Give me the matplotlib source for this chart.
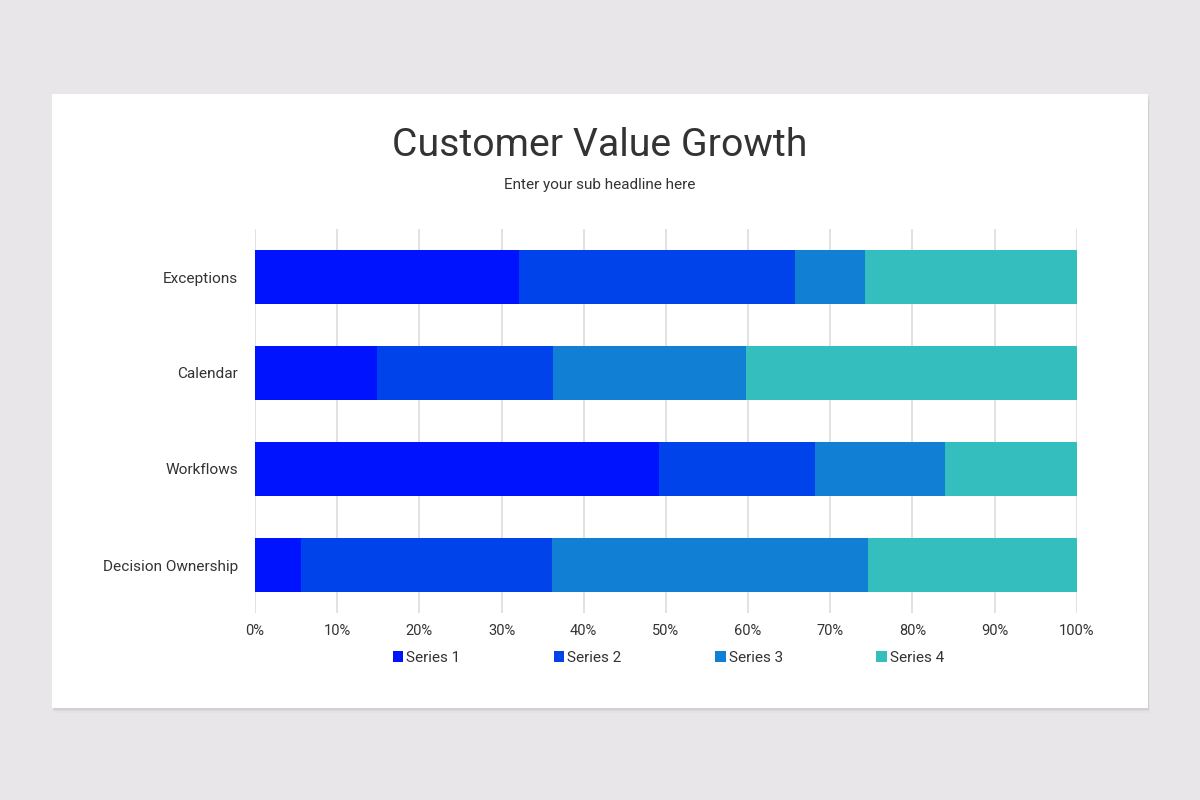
import numpy as np
import matplotlib.pyplot as plt
from matplotlib.patches import Rectangle

plt.rcParams['font.family'] = ['Roboto', 'DejaVu Sans']

# Dados do gráfico (percentuais por categoria)
categories = ['Exceptions', 'Calendar', 'Workflows', 'Decision Ownership']
series_names = ['Series 1', 'Series 2', 'Series 3', 'Series 4']
series1 = [32.1, 14.8, 49.2, 5.6]
series2 = [33.6, 21.5, 19.0, 30.5]
series3 = [8.5, 23.4, 15.8, 38.5]
series4 = [25.8, 40.3, 16.0, 25.4]
colors = ['#0013FF', '#0043EA', '#1180D4', '#34BEBD']
xticks = np.arange(0, 101, 10)
xtick_labels = [f'{v}%' for v in xticks]

fig = plt.figure(figsize=(12, 8), dpi=100)
fig.patch.set_facecolor('#E8E6E8')

# Cartão branco com sombra
for i, a in enumerate([0.04, 0.03, 0.02]):
    off = (i + 1) * 0.002
    fig.patches.append(Rectangle((0.0433 + off * 0.3, 0.115 - off), 0.9133, 0.7675,
                                 transform=fig.transFigure, facecolor='#000000',
                                 alpha=a, edgecolor='none', zorder=0))
fig.patches.append(Rectangle((0.0433, 0.115), 0.9133, 0.7675, transform=fig.transFigure,
                             facecolor='white', edgecolor='none', zorder=1))

ax = fig.add_axes([0.2125, 0.23375, 0.6848, 0.48])
ax.set_zorder(2)
ax.set_facecolor('none')

y = np.arange(len(categories))
left = np.zeros(len(categories))
for name, vals, c in zip(series_names, [series1, series2, series3, series4], colors):
    ax.barh(y, vals, left=left, height=0.5625, color=c, label=name, zorder=3)
    left += np.array(vals)

ax.set_xlim(0, 100)
ax.set_ylim(3.5, -0.5)
ax.set_yticks(y)
ax.set_yticklabels(categories, fontsize=11.1, color='#333333', va='center_baseline')
ax.set_xticks(xticks)
ax.set_xticklabels(xtick_labels, fontsize=10.5, color='#333333')
ax.tick_params(axis='y', length=0, pad=12)
ax.tick_params(axis='x', length=0, pad=8)
ax.grid(axis='x', color='#DDDDDD', linewidth=1.2, zorder=0)
for s in ax.spines.values():
    s.set_visible(False)

fig.text(0.5, 0.818, 'Customer Value Growth', ha='center', va='center',
         fontsize=28.3, color='#333333', zorder=3)
fig.text(0.5, 0.769, 'Enter your sub headline here', ha='center', va='center',
         fontsize=11, color='#333333', zorder=3)

leg = fig.legend(loc='center', bbox_to_anchor=(0.557, 0.178), ncol=4, frameon=False,
                 fontsize=11, handlelength=0.7, handleheight=0.7, handletextpad=0.2,
                 columnspacing=6.1)
leg.set_zorder(3)
for t in leg.get_texts():
    t.set_color('#333333')

plt.savefig('out.png', dpi=100, facecolor=fig.get_facecolor())
plt.close()
